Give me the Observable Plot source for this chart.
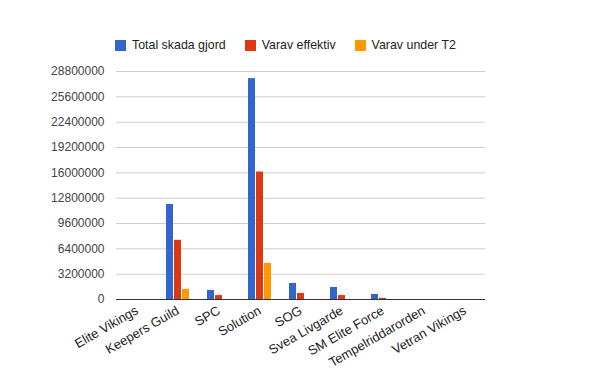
<!DOCTYPE html>
<html><head><meta charset="utf-8">
<script src="https://cdn.jsdelivr.net/npm/d3@7"></script>
<script src="https://cdn.jsdelivr.net/npm/@observablehq/plot@0.6"></script>
<style>
html,body{margin:0;padding:0;background:#fff;}
#wrap{position:relative;width:600px;height:371px;font-family:"Liberation Sans",Arial,sans-serif;}
#legend{position:absolute;left:115px;top:38px;display:flex;gap:19px;font-size:12.4px;color:#222;}
#legend .it{display:flex;align-items:center;gap:6px;}
#legend .sw{width:11px;height:11px;display:inline-block;}
#chart svg [aria-label^="y-axis"] text{fill:#444;}
#chart svg [aria-label^="fx-axis"] text{fill:#222;font-size:13px;}
</style></head>
<body><div id="wrap"><div id="chart"></div><div id="legend"></div></div>
<script>
const categories = ["Elite Vikings","Keepers Guild","SPC","Solution","SOG","Svea Livgarde","SM Elite Force","Tempelriddarorden","Vetran Vikings"];
const series = ["Total skada gjord","Varav effektiv","Varav under T2"];
const colors = ["#3366cc","#dc3912","#ff9900"];
const totalDamage = [0, 12000000, 1150000, 27900000, 2030000, 1520000, 630000, 0, 0];
const effective = [0, 7480000, 500000, 16100000, 760000, 500000, 150000, 0, 0];
const underT2 = [0, 1270000, 0, 4560000, 0, 0, 0, 0, 0];
const yTicks = [0,3200000,6400000,9600000,12800000,16000000,19200000,22400000,25600000,28800000];

const valuesBySeries = [totalDamage, effective, underT2];
const rows = [];
categories.forEach((c,i)=>series.forEach((s,j)=>rows.push({team:c, series:s, value:valuesBySeries[j][i]})));

const chart = Plot.plot({
  width:600, height:371,
  marginLeft:115, marginRight:114, marginTop:71, marginBottom:72,
  style:{fontFamily:"Liberation Sans, Arial, sans-serif", fontSize:"12px", color:"#222", background:"#fff"},
  fx:{domain:categories, paddingInner:0, paddingOuter:0, axis:"bottom", tickRotate:-30, tickSize:0, tickPadding:10, label:null},
  x:{domain:series, axis:null, paddingInner:0.125, paddingOuter:1.075},
  y:{domain:[0,28800000], ticks:yTicks, tickFormat:d=>String(d), tickSize:0, tickPadding:12, label:null},
  color:{domain:series, range:colors},
  marks:[
    Plot.ruleY(yTicks.filter(d=>d>0), {stroke:"#cccccc", strokeOpacity:1}),
    Plot.barY(rows, {fx:"team", x:"series", y:"value", fill:"series"}),
    Plot.ruleY([0], {stroke:"#333333", strokeOpacity:1})
  ]
});
document.getElementById("chart").appendChild(chart);

const leg = document.getElementById("legend");
series.forEach((s,i)=>{
  const it=document.createElement("div"); it.className="it";
  const sw=document.createElement("span"); sw.className="sw"; sw.style.background=colors[i];
  const t=document.createElement("span"); t.textContent=s;
  it.appendChild(sw); it.appendChild(t); leg.appendChild(it);
});
</script></body></html>
